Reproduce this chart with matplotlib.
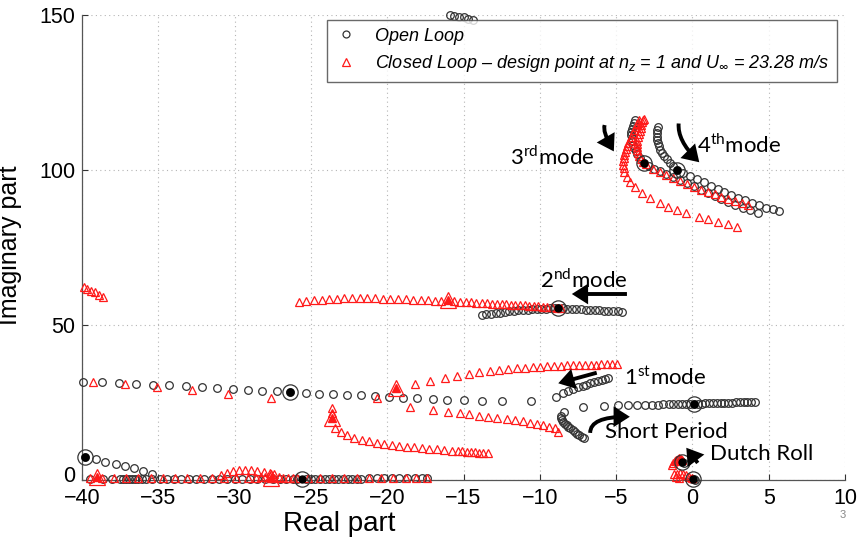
import matplotlib
matplotlib.use("Agg")
import matplotlib.pyplot as plt
from matplotlib.lines import Line2D
from matplotlib.patches import FancyArrowPatch
from matplotlib.transforms import ScaledTranslation

plt.rcParams['font.family'] = ['Liberation Sans', 'DejaVu Sans']
plt.rcParams['mathtext.fontset'] = 'custom'
plt.rcParams['mathtext.rm'] = 'Lato'
plt.rcParams['mathtext.it'] = 'Liberation Sans:italic'
plt.rcParams['mathtext.fallback'] = 'stixsans'

# ---------------- Open loop (black circles) ----------------
ol_top_x = [-15.9, -15.6, -15.3, -15.0, -14.7, -14.4]
ol_top_y = [150.0, 149.8, 149.5, 149.2, 148.8, 148.4]

ol_mode3_x = [-3.77, -3.85, -3.92, -3.97, -4.0, -4.0, -3.98, -3.95, -3.9, -3.82, -3.72, -3.6, -3.45, -3.2,
              -2.85, -2.5, -2.1, -1.7, -1.25, -0.8, -0.35, 0.1, 0.55, 1.0, 1.45, 1.9, 2.35, 2.8, 3.3, 3.8, 4.3]
ol_mode3_y = [116.1, 115.2, 114.2, 113.2, 112.2, 111.2, 110.2, 109.2, 108.2, 107.2, 106.2, 105.2, 104.0, 102.4,
              101.2, 100.4, 99.6, 98.8, 97.8, 96.8, 95.8, 94.7, 93.6, 92.5, 91.6, 90.7, 89.7, 88.8, 87.9, 87.0, 86.2]

ol_mode4_x = [-2.23, -2.3, -2.34, -2.35, -2.33, -2.28, -2.2, -2.1, -1.98, -1.84, -1.68, -1.5, -1.28, -1.03,
              -0.6, -0.16, 0.3, 0.75, 1.2, 1.65, 2.1, 2.55, 3.0, 3.45, 3.9, 4.35, 4.8, 5.25, 5.7]
ol_mode4_y = [114.0, 113.0, 112.0, 110.8, 109.8, 108.7, 107.6, 106.5, 105.5, 104.5, 103.5, 102.4, 101.3, 100.0,
              99.0, 98.0, 97.0, 96.0, 95.0, 94.0, 93.0, 92.0, 91.1, 90.2, 89.3, 88.6, 87.9, 87.3, 86.7]

ol_mode2_x = [-13.8, -13.5, -13.2, -12.9, -12.6, -12.3, -12.0, -11.7, -11.4, -11.1, -10.8, -10.5, -10.2, -9.9,
              -9.6, -9.3, -9.0, -8.8, -8.5, -8.2, -7.9, -7.6, -7.3, -7.0, -6.7, -6.4, -6.1, -5.8, -5.5, -5.2,
              -4.9, -4.6]
ol_mode2_y = [53.2, 53.4, 53.6, 53.8, 54.0, 54.2, 54.4, 54.6, 54.7, 54.9, 55.0, 55.1, 55.2, 55.3,
              55.3, 55.4, 55.4, 55.4, 55.4, 55.3, 55.3, 55.2, 55.1, 55.0, 54.9, 54.8, 54.7, 54.6, 54.5, 54.5,
              54.4, 54.3]

ol_long_x = [-39.91, -38.71, -37.55, -36.46, -35.32, -34.28, -33.18, -32.16, -31.13, -30.13, -29.14, -28.18,
             -27.24, -26.37, -25.34, -24.45, -23.53, -22.61, -21.72, -20.8, -19.88, -18.98, -18.03, -17.02,
             -16.1, -15.0, -13.8, -12.5, -10.6]
ol_long_y = [31.7, 31.5, 31.4, 31.1, 30.8, 30.5, 30.2, 29.9, 29.6, 29.4, 29.0, 28.8,
             28.6, 28.3, 28.2, 27.9, 27.7, 27.5, 27.3, 27.1, 26.8, 26.6, 26.3, 26.1,
             25.8, 25.8, 25.6, 25.5, 25.4]

ol_sp_x = [-7.2, -5.8, -4.86, -4.2, -3.6, -3.1, -2.65, -2.25, -1.9, -1.55, -1.25, -0.95, -0.65, -0.4, -0.15,
           0.1, 0.35, 0.6, 0.85, 1.1, 1.35, 1.6, 1.85, 2.1, 2.35, 2.6, 2.85, 3.1, 3.35, 3.6, 3.85, 4.1]
ol_sp_y = [23.4, 23.8, 24.1, 24.2, 24.2, 24.3, 24.3, 24.3, 24.4, 24.4, 24.4, 24.4, 24.4, 24.5, 24.5,
           24.5, 24.6, 24.6, 24.7, 24.7, 24.8, 24.8, 24.9, 24.9, 25.0, 25.0, 25.1, 25.1, 25.2, 25.2, 25.3, 25.3]

ol_first_x = [-8.94, -8.46, -8.13, -7.8, -7.5, -7.2, -6.95, -6.7, -6.45, -6.2, -5.95, -5.7, -5.5]
ol_first_y = [26.9, 28.2, 28.8, 29.4, 29.9, 30.4, 30.8, 31.2, 31.6, 31.9, 32.2, 32.5, 32.8]

ol_spdown_x = [-8.4, -8.6, -8.62, -8.55, -8.46, -8.35, -8.24, -8.12, -8.0, -7.85, -7.7, -7.55, -7.4, -7.25, -7.1]
ol_spdown_y = [22.0, 20.8, 20.0, 19.3, 18.8, 18.2, 17.7, 17.2, 16.7, 16.1, 15.6, 15.0, 14.5, 13.9, 13.4]

ol_lowleft_x = [-39.8, -39.1, -38.5, -37.8, -37.2, -36.6, -36.0, -35.4]
ol_lowleft_y = [7.3, 6.8, 5.9, 5.2, 4.5, 3.8, 3.0, 1.9]

ol_real_x = [-39.5, -38.6, -38.05, -37.5, -37.3, -37.1, -36.9, -36.7, -36.5, -36.3, -36.1, -35.8, -35.4,
             -34.9, -34.4, -34.0, -33.5, -33.0, -32.5, -32.0, -31.5, -31.0, -30.5, -30.0, -29.5, -29.0,
             -28.5, -28.0, -27.5, -27.0, -26.6, -26.2, -25.9, -25.3, -25.0, -24.7, -24.4, -24.1, -23.8,
             -23.5, -23.2, -22.9, -22.6, -22.3, -22.0, -21.7, -21.2, -20.7, -20.2, -19.7, -19.2, -18.7,
             -18.2, -17.7, -17.4]
ol_real_y = [0.3, 0.3, 0.3, 0.3, 0.3, 0.3, 0.3, 0.3, 0.3, 0.3, 0.3, 0.3, 0.3,
             0.3, 0.3, 0.3, 0.3, 0.3, 0.3, 0.3, 0.3, 0.3, 0.3, 0.3, 0.3, 0.3,
             0.3, 0.3, 0.3, 0.3, 0.3, 0.3, 0.3, 0.3, 0.3, 0.3, 0.3, 0.3, 0.3,
             0.3, 0.3, 0.3, 0.3, 0.3, 0.3, 0.3, 0.5, 0.5, 0.5, 0.5, 0.5, 0.5,
             0.5, 0.5, 0.5]

ol_dutch_x = [-0.95, -0.85, -0.75, -0.65, -0.55, 0.0, 0.1, 0.2]
ol_dutch_y = [6.6, 6.3, 6.0, 5.8, 5.6, 0.4, 0.2, 0.1]

ol_design_x = [-3.2, -1.03, -8.8, -26.37, 0.1, -39.8, -25.6, 0.06, -0.7]
ol_design_y = [102.4, 100.0, 55.4, 28.3, 24.5, 7.3, 0.3, 0.3, 5.9]

# ---------------- Closed loop (red triangles) ----------------
cl_mode3a_x = [-3.2, -3.25, -3.3, -3.35, -3.4, -3.45, -3.5, -3.55, -3.6, -3.65, -3.65, -3.6, -3.55, -3.5,
               -3.4, -3.25, -3.05, -2.6, -2.15, -1.7, -1.25, -0.8, -0.35, 0.1, 0.55, 1.0, 1.45, 1.9, 2.35,
               2.8, 3.25, 3.66]
cl_mode3a_y = [116.5, 116.0, 115.5, 114.5, 113.5, 112.5, 111.5, 110.5, 109.5, 108.5, 107.5, 106.5, 105.5, 104.5,
               103.5, 102.5, 101.8, 100.3, 99.3, 98.3, 97.3, 96.4, 95.5, 94.6, 93.7, 92.9, 92.1, 91.4, 90.6,
               89.9, 89.3, 88.7]

cl_mode3b_x = [-3.5, -3.55, -3.6, -3.7, -3.8, -3.9, -4.0, -4.1, -4.2, -4.3, -4.35, -4.4, -4.45, -4.5, -4.55,
               -4.55, -4.5, -4.5, -4.3, -4.1, -3.76, -3.3, -2.8, -2.1, -1.6, -1.0, -0.4, 0.4, 1.04, 1.7,
               2.35, 2.9]
cl_mode3b_y = [116.0, 115.3, 114.8, 113.8, 112.8, 111.8, 110.8, 109.8, 108.8, 107.8, 106.8, 105.8, 104.8, 103.8,
               102.8, 101.6, 100.5, 99.5, 97.8, 96.2, 94.6, 92.5, 90.9, 89.2, 88.2, 87.1, 86.0, 84.9, 84.1,
               83.3, 82.6, 81.7]

cl_mode2_x = [-25.8, -25.3, -24.8, -24.3, -23.8, -23.3, -22.8, -22.3, -21.8, -21.3, -20.8, -20.3, -19.8,
              -19.3, -18.8, -18.3, -17.8, -17.3, -16.85, -16.45, -15.6, -15.2, -14.85, -14.5, -14.15,
              -13.8, -13.45, -13.1, -12.8, -12.5, -12.2, -11.9, -11.6, -11.3, -11.0, -10.7, -10.4, -10.1,
              -9.8, -9.5, -9.2, -8.9, -8.6]
cl_mode2_y = [57.5, 57.8, 58.0, 58.2, 58.4, 58.5, 58.6, 58.6, 58.6, 58.6, 58.6, 58.5, 58.5,
              58.4, 58.3, 58.2, 58.1, 58.0, 57.9, 57.8, 57.6, 57.5, 57.4, 57.3, 57.2,
              57.1, 57.0, 56.9, 56.8, 56.8, 56.7, 56.6, 56.5, 56.4, 56.3, 56.2, 56.1, 56.0,
              55.9, 55.8, 55.7, 55.6, 55.5]

cl_topleft_x = [-39.9, -39.65, -39.4, -39.15, -38.9, -38.65]
cl_topleft_y = [62.4, 61.7, 61.1, 60.5, 59.8, 59.1]

cl_left_x = [-39.3, -37.2, -35.1, -32.8, -30.4, -27.6, -20.7]
cl_left_y = [31.7, 31.0, 29.9, 28.9, 27.7, 26.3, 26.3]

cl_upper_x = [-18.2, -17.2, -16.2, -15.4, -14.62, -13.96, -13.26, -12.65, -12.06, -11.51, -10.96, -10.46,
              -9.99, -9.51, -9.05, -8.61, -8.2, -7.81, -7.41, -7.04, -6.67, -6.32, -5.97, -5.62, -5.29, -4.96]
cl_upper_y = [30.9, 32.0, 32.8, 33.5, 34.2, 34.7, 35.3, 35.5, 35.8, 36.0, 36.2, 36.5,
              36.6, 36.7, 36.8, 36.9, 37.0, 37.1, 37.1, 37.2, 37.2, 37.2, 37.3, 37.3, 37.3, 37.3]

cl_lower_x = [-18.5, -17.0, -16.0, -15.21, -14.62, -13.96, -13.37, -12.78, -12.17, -11.62, -11.08, -10.64,
              -10.2, -9.77, -9.38, -9.0, -8.79]
cl_lower_y = [23.7, 22.6, 22.0, 21.5, 21.2, 20.7, 20.4, 20.1, 19.7, 19.4, 18.9, 18.5,
              18.1, 17.6, 17.2, 16.7, 15.6]

cl_sp_x = [-23.6, -23.65, -23.42, -23.05, -22.66, -22.18, -21.67, -21.17, -20.69, -20.21, -19.71, -19.21,
           -18.72, -18.24, -17.74, -17.24, -16.76, -16.28, -15.77, -15.34, -15.1, -14.8, -14.5, -14.25,
           -14.0, -13.7, -13.4]
cl_sp_y = [23.1, 21.6, 16.7, 15.6, 14.5, 13.7, 12.9, 12.5, 12.0, 11.6, 11.3, 11.0,
           10.7, 10.5, 10.3, 10.1, 9.9, 9.7, 9.5, 9.3, 9.2, 9.1, 9.0, 8.9,
           8.8, 8.7, 8.6]

cl_real_x = [-39.5, -38.7, -37.9, -37.1, -36.3, -35.5, -34.7, -33.9, -33.1, -32.3, -31.5, -30.7, -29.9,
             -29.1, -28.6, -28.3, -28.0, -27.7, -27.4, -27.1, -26.8, -26.5, -26.2, -25.9, -25.2, -24.4,
             -23.6, -22.8, -22.0, -21.2, -20.4, -19.6, -18.8, -18.1, -17.4]
cl_real_y = [0.6, 0.6, 0.6, 0.6, 0.6, 0.6, 0.6, 0.6, 0.6, 0.6, 0.6, 0.6, 0.6,
             0.6, 0.8, 1.0, 0.9, 1.2, 0.7, 1.0, 0.6, 0.8, 0.6, 0.6, 0.6, 0.6,
             0.6, 0.6, 0.6, 0.6, 0.6, 0.6, 0.6, 0.6, 0.6]

cl_bump_x = [-30.9, -30.5, -30.1, -29.7, -29.3, -28.9, -28.5, -28.1, -27.7, -27.4]
cl_bump_y = [1.6, 2.3, 2.8, 3.1, 3.2, 3.1, 2.9, 2.6, 2.2, 1.8]

cl_dutch_x = [-1.35, -1.25, -1.15, -1.05, -0.95, -0.85, -0.75, -0.65, -1.2, -1.0, -0.8, -0.6, -0.4, -0.2, 0.0,
              -1.1, -0.9]
cl_dutch_y = [5.0, 5.5, 6.0, 6.5, 6.8, 7.0, 6.8, 6.5, 1.8, 2.0, 2.1, 1.9, 1.5, 1.0, 0.5,
              1.0, 0.8]

cl_design_x = [-16.0, -19.4, -23.6, -39.0, -27.6]
cl_design_y = [58.0, 29.6, 19.9, 1.0, 0.8]

# ---------------- text ----------------
legend_labels = ["Open Loop",
                 r"Closed Loop – design point at $n_{z}$ = 1 and $U_{\infty}$ = 23.28 m/s"]
x_ticks = [-40, -35, -30, -25, -20, -15, -10, -5, 0, 5, 10]
y_ticks = [0, 50, 100, 150]

BLACK = '#333333'
RED = '#ff1a1a'

fig = plt.figure(figsize=(8.61, 5.40), dpi=100)
ax = fig.add_axes([82 / 861, 60 / 540, 763 / 861, 465 / 540])

ol_branches = [(ol_top_x, ol_top_y), (ol_mode3_x, ol_mode3_y), (ol_mode4_x, ol_mode4_y),
               (ol_mode2_x, ol_mode2_y), (ol_long_x, ol_long_y), (ol_sp_x, ol_sp_y),
               (ol_first_x, ol_first_y), (ol_spdown_x, ol_spdown_y), (ol_lowleft_x, ol_lowleft_y),
               (ol_real_x, ol_real_y), (ol_dutch_x, ol_dutch_y)]
for bx, by in ol_branches:
    ax.plot(bx, by, 'o', ls='none', mfc='none', mec=BLACK, ms=5.5, mew=0.9, clip_on=False, zorder=3)

cl_branches = [(cl_mode3a_x, cl_mode3a_y), (cl_mode3b_x, cl_mode3b_y), (cl_mode2_x, cl_mode2_y),
               (cl_topleft_x, cl_topleft_y), (cl_left_x, cl_left_y), (cl_upper_x, cl_upper_y),
               (cl_lower_x, cl_lower_y), (cl_sp_x, cl_sp_y), (cl_real_x, cl_real_y),
               (cl_bump_x, cl_bump_y), (cl_dutch_x, cl_dutch_y)]
for bx, by in cl_branches:
    ax.plot(bx, by, '^', ls='none', mfc='none', mec=RED, ms=6, mew=0.9, clip_on=False, zorder=3)

ax.plot(ol_design_x, ol_design_y, 'o', ls='none', mfc='none', mec=BLACK, ms=11, mew=0.9,
        clip_on=False, zorder=5)
ax.plot(ol_design_x, ol_design_y, 'o', ls='none', color='black', ms=5, clip_on=False, zorder=5)
ax.plot(cl_design_x, cl_design_y, '^', ls='none', mfc='none', mec=RED, ms=12, mew=0.9,
        clip_on=False, zorder=4)
ax.plot(cl_design_x, cl_design_y, '^', ls='none', color=RED, ms=6, clip_on=False, zorder=4)

ax.set_xlim(-40, 10)
ax.set_ylim(0, 150)
ax.set_xticks(x_ticks)
ax.set_yticks(y_ticks)
ax.tick_params(direction='in', length=4, width=0.8, labelsize=15.5, colors='#333333', labelcolor='black')
ax.tick_params(axis='x', pad=6)
ax.tick_params(axis='y', pad=5)
ax.grid(True, ls=(0, (1, 3)), color='#b5b5b5', lw=0.8)
ax.set_axisbelow(True)
for s in ['top', 'right']:
    ax.spines[s].set_visible(False)
for s in ['left', 'bottom']:
    ax.spines[s].set_color('#555555')
    ax.spines[s].set_linewidth(0.9)

ax.set_xlabel("Real part", fontsize=20)
ax.set_ylabel("Imaginary part", fontsize=18)
ax.xaxis.set_label_coords(0.337, -0.067)
ax.yaxis.set_label_coords(-0.078, 0.505)

handles = [Line2D([], [], marker='o', ls='none', mfc='none', mec=BLACK, ms=5, mew=0.9),
           Line2D([], [], marker='^', ls='none', mfc='none', mec=RED, ms=6, mew=0.9)]
leg = ax.legend(handles, legend_labels, loc='upper left', bbox_to_anchor=(0.321, 0.99),
                prop={'style': 'italic', 'size': 13}, frameon=True, fancybox=False,
                edgecolor='#444444', borderpad=0.45, handlelength=1.2, handletextpad=1.0,
                labelspacing=0.45, borderaxespad=0)
leg.get_frame().set_linewidth(1.0)
leg.set_zorder(10)

# annotations
ann_font = dict(family=['Lato', 'DejaVu Sans'], fontsize=16, color='black', va='center', ha='left')
ax.text(-11.95, 104.2, r"3$^{\mathrm{rd}}$mode", **ann_font)
ax.text(0.28, 108.0, r"4$^{\mathrm{th}}$mode", **ann_font)
ax.text(-10.0, 64.5, r"2$^{\mathrm{nd}}$mode", **ann_font)
ax.text(-4.5, 33.2, r"1$^{\mathrm{st}}$mode", **ann_font)
ax.text(-5.74, 15.5, "Short Period", **ann_font)
ax.text(1.15, 8.4, "Dutch Roll", **ann_font)


def arrow(p0, p1, conn="arc3,rad=0"):
    a = FancyArrowPatch(p0, p1, arrowstyle='-|>,head_length=0.55,head_width=0.35', mutation_scale=14,
                        lw=2.8, color='black', connectionstyle=conn, shrinkA=0, shrinkB=0, zorder=6,
                        clip_on=False, joinstyle='miter', capstyle='butt')
    ax.add_patch(a)


arrow((-4.29, 60.0), (-7.9, 60.0))
arrow((-6.27, 34.6), (-8.79, 31.2))
arrow((-6.7, 15.2), (-4.1, 20.4), conn="angle3,angleA=90,angleB=0")
arrow((0.35, 5.5), (-0.4, 10.4))
arrow((-5.75, 114.5), (-5.15, 106.0), conn="angle3,angleA=-110,angleB=-60")
arrow((-0.9, 115.0), (0.45, 102.5), conn="angle3,angleA=-95,angleB=-45")

fig.text(843 / 861, 1 - 515 / 540, "3", fontsize=8, color='#888888', ha='center', va='center')

# lift the "0" y tick label a little so it clears the "-40" x tick label
zero_tick = ax.yaxis.get_major_ticks()[0]
zero_tick.label1.set_transform(zero_tick.label1.get_transform()
                               + ScaledTranslation(0, 4 / 72, fig.dpi_scale_trans))

fig.savefig("out.png", dpi=100)
